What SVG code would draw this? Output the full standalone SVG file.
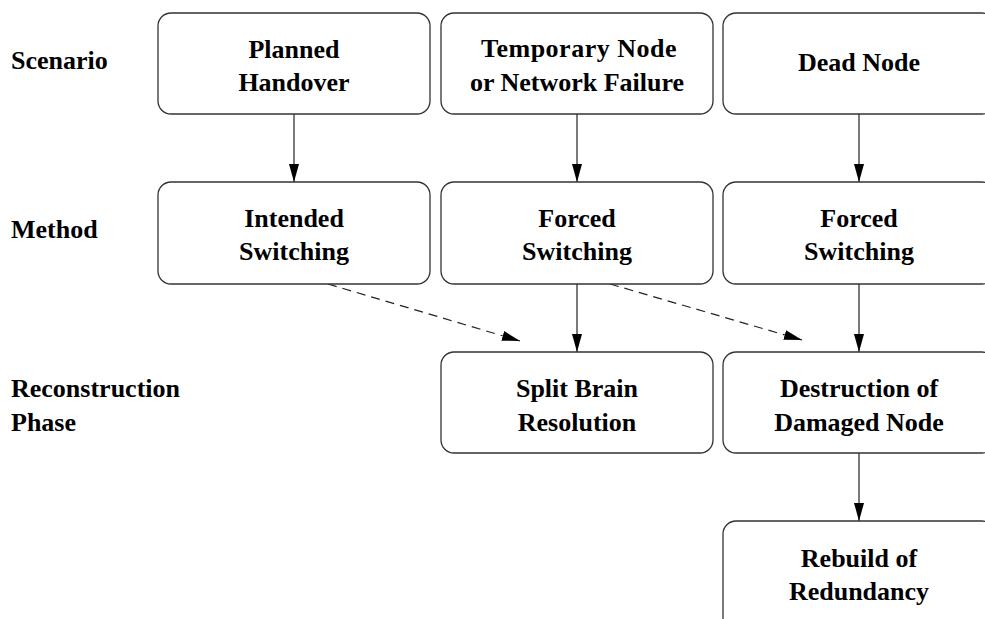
<svg xmlns="http://www.w3.org/2000/svg" width="985" height="619" viewBox="0 0 985 619">
<style>
.box{fill:#fff;stroke:#333;stroke-width:1.3}
text{font-family:'Liberation Serif','Times New Roman',Times,serif;font-weight:700;font-size:26px;fill:#000}
.c{text-anchor:middle}
.e{fill:none;stroke:#222;stroke-width:1.2}
.d{stroke-dasharray:9 6}
</style>
<defs>
<marker id="ah" markerUnits="userSpaceOnUse" markerWidth="18" markerHeight="10" refX="18" refY="5" orient="auto">
<path d="M0,0 L18,5 L0,10 Z" fill="#000"/>
</marker>
</defs>
<rect width="985" height="619" fill="#fff"/>
<g id="labels">
<text x="11" y="69">Scenario</text>
<text x="11" y="238">Method</text>
<text x="11" y="397">Reconstruction</text>
<text x="11" y="431">Phase</text>
</g>
<g id="connectors">
<line class="e" x1="294" y1="114" x2="294" y2="182" marker-end="url(#ah)"/>
<line class="e" x1="577" y1="114" x2="577" y2="182" marker-end="url(#ah)"/>
<line class="e" x1="859" y1="114" x2="859" y2="182" marker-end="url(#ah)"/>
<line class="e" x1="577" y1="284" x2="577" y2="352" marker-end="url(#ah)"/>
<line class="e" x1="859" y1="284" x2="859" y2="352" marker-end="url(#ah)"/>
<line class="e" x1="859" y1="453" x2="859" y2="521" marker-end="url(#ah)"/>
<line class="e d" x1="328" y1="284" x2="520" y2="341" marker-end="url(#ah)"/>
<line class="e d" x1="610" y1="284" x2="802" y2="340" marker-end="url(#ah)"/>
</g>
<g id="planned-handover">
<rect class="box" x="158" y="13" width="272" height="101" rx="13"/>
<text class="c" x="294" y="58">Planned</text>
<text class="c" x="294" y="91">Handover</text>
</g>
<g id="temporary-failure">
<rect class="box" x="441" y="13" width="272" height="101" rx="13"/>
<text class="c" x="579" y="57" letter-spacing="0.5">Temporary Node</text>
<text class="c" x="577" y="91">or Network Failure</text>
</g>
<g id="dead-node">
<rect class="box" x="723" y="13" width="272" height="101" rx="13"/>
<text class="c" x="859" y="71">Dead Node</text>
</g>
<g id="intended-switching">
<rect class="box" x="158" y="182" width="272" height="102" rx="13"/>
<text class="c" x="294" y="227">Intended</text>
<text class="c" x="294" y="260">Switching</text>
</g>
<g id="forced-switching-1">
<rect class="box" x="441" y="182" width="272" height="102" rx="13"/>
<text class="c" x="577" y="227">Forced</text>
<text class="c" x="577" y="260">Switching</text>
</g>
<g id="forced-switching-2">
<rect class="box" x="723" y="182" width="272" height="102" rx="13"/>
<text class="c" x="859" y="227">Forced</text>
<text class="c" x="859" y="260">Switching</text>
</g>
<g id="split-brain">
<rect class="box" x="441" y="352" width="272" height="101" rx="13"/>
<text class="c" x="577" y="397">Split Brain</text>
<text class="c" x="577" y="431">Resolution</text>
</g>
<g id="destruction">
<rect class="box" x="723" y="352" width="272" height="101" rx="13"/>
<text class="c" x="859" y="397">Destruction of</text>
<text class="c" x="859" y="431">Damaged Node</text>
</g>
<g id="rebuild">
<rect class="box" x="723" y="521" width="272" height="110" rx="13"/>
<text class="c" x="859" y="567">Rebuild of</text>
<text class="c" x="859" y="600">Redundancy</text>
</g>
</svg>
